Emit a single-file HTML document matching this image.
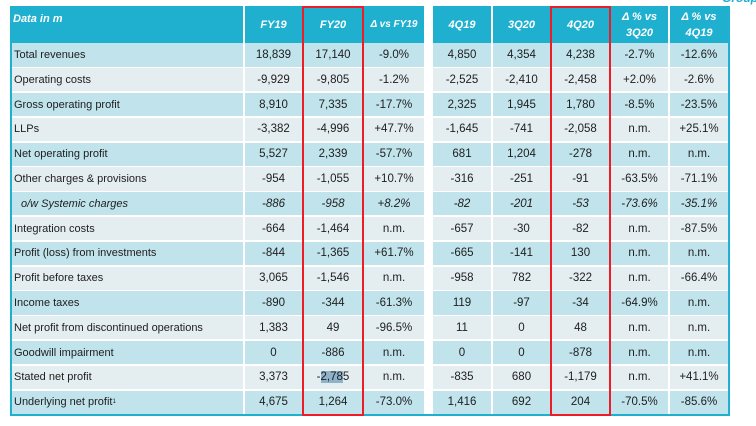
<!DOCTYPE html>
<html>
<head>
<meta charset="utf-8">
<style>
  html, body { margin:0; padding:0; background:#ffffff; }
  body { width:756px; height:426px; position:relative; overflow:hidden;
         font-family:"Liberation Sans", Arial, sans-serif; color:#1e1e1e; }
  .abs { position:absolute; box-sizing:border-box; }
  .hdr { background:#1fb0d0; color:#ffffff; font-weight:bold; font-style:italic;
         font-size:11px; display:flex; align-items:center; justify-content:center; text-align:center; line-height:16px; }
  .cell { display:flex; align-items:center; justify-content:center; font-size:11.5px; white-space:nowrap; }
  .lab { justify-content:flex-start; padding-left:2px; font-size:11px; }
  .b { background:#c0e3ec; }
  .g { background:#e4edf0; }
  .it { font-style:italic; }
  .red { border:2px solid #ee1c25; }
  sup { font-size:6px; vertical-align:5px; }
</style>
</head>
<body>
<!-- partial "Group" text at top right -->
<div class="abs" style="left:722px;top:-9px;font-size:12px;font-weight:bold;font-style:italic;color:#1fb0d0;">Group</div>

<!-- outer border -->
<div class="abs" style="left:10px;top:6px;width:2px;height:410px;background:#1fb0d0;"></div>
<div class="abs" style="left:728px;top:6px;width:2px;height:410px;background:#1fb0d0;"></div>
<div class="abs" style="left:10px;top:414px;width:720px;height:2px;background:#1fb0d0;"></div>

<div id="t"></div>

<script>
(function(){
  var cols = [[10,233],[245,57],[304,58],[364,60],[433,58],[493,57],[552,57],[611,57],[670,58]];
  var hdr = ['Data in m','FY19','FY20','<span style="font-size:10px">&Delta; vs FY19</span>','4Q19','3Q20','4Q20','&Delta; % vs<br>3Q20','&Delta; % vs<br>4Q19'];
  var rows = [
    ['Total revenues','18,839','17,140','-9.0%','4,850','4,354','4,238','-2.7%','-12.6%'],
    ['Operating costs','-9,929','-9,805','-1.2%','-2,525','-2,410','-2,458','+2.0%','-2.6%'],
    ['Gross operating profit','8,910','7,335','-17.7%','2,325','1,945','1,780','-8.5%','-23.5%'],
    ['LLPs','-3,382','-4,996','+47.7%','-1,645','-741','-2,058','n.m.','+25.1%'],
    ['Net operating profit','5,527','2,339','-57.7%','681','1,204','-278','n.m.','n.m.'],
    ['Other charges &amp; provisions','-954','-1,055','+10.7%','-316','-251','-91','-63.5%','-71.1%'],
    ['o/w Systemic charges','-886','-958','+8.2%','-82','-201','-53','-73.6%','-35.1%'],
    ['Integration costs','-664','-1,464','n.m.','-657','-30','-82','n.m.','-87.5%'],
    ['Profit (loss) from investments','-844','-1,365','+61.7%','-665','-141','130','n.m.','n.m.'],
    ['Profit before taxes','3,065','-1,546','n.m.','-958','782','-322','n.m.','-66.4%'],
    ['Income taxes','-890','-344','-61.3%','119','-97','-34','-64.9%','n.m.'],
    ['Net profit from discontinued operations','1,383','49','-96.5%','11','0','48','n.m.','n.m.'],
    ['Goodwill impairment','0','-886','n.m.','0','0','-878','n.m.','n.m.'],
    ['Stated net profit','3,373','-<span style="background:#8fb2cb">2,78</span>5','n.m.','-835','680','-1,179','n.m.','+41.1%'],
    ['Underlying net profit<sup>1</sup>','4,675','1,264','-73.0%','1,416','692','204','-70.5%','-85.6%']
  ];
  var h = '';
  // header
  for (var c=0;c<cols.length;c++){
    var st = 'left:'+cols[c][0]+'px;top:6px;width:'+cols[c][1]+'px;height:37px;';
    if (c===0) {
      h += '<div class="abs hdr" style="'+st+'justify-content:flex-start;align-items:flex-start;padding:5px 0 0 3px;">'+hdr[c]+'</div>';
    } else {
      h += '<div class="abs hdr" style="'+st+'">'+hdr[c]+'</div>';
    }
  }
  // rows
  for (var r=0;r<rows.length;r++){
    var top = 43.4 + r*24.8;
    var cls = (r%2===0)?'b':'g';
    var it = (r===6)?' it':'';
    for (var c=0;c<cols.length;c++){
      var left = cols[c][0], w = cols[c][1];
      if (c===0){ left = 12; w = 231; }
      var st = 'left:'+left+'px;top:'+top.toFixed(1)+'px;width:'+w+'px;height:23.3px;';
      if (c===0){
        var pad = (r===6)?'padding-left:9px;':'';
        h += '<div class="abs cell lab '+cls+it+'" style="'+st+pad+'">'+rows[r][c]+'</div>';
      } else {
        h += '<div class="abs cell '+cls+it+'" style="'+st+'">'+rows[r][c]+'</div>';
      }
    }
  }
  // red boxes
  h += '<div class="abs red" style="left:302px;top:6px;width:62px;height:410px;"></div>';
  h += '<div class="abs red" style="left:550px;top:6px;width:61px;height:410px;"></div>';
  document.getElementById('t').innerHTML = h;
})();
</script>
</body>
</html>
